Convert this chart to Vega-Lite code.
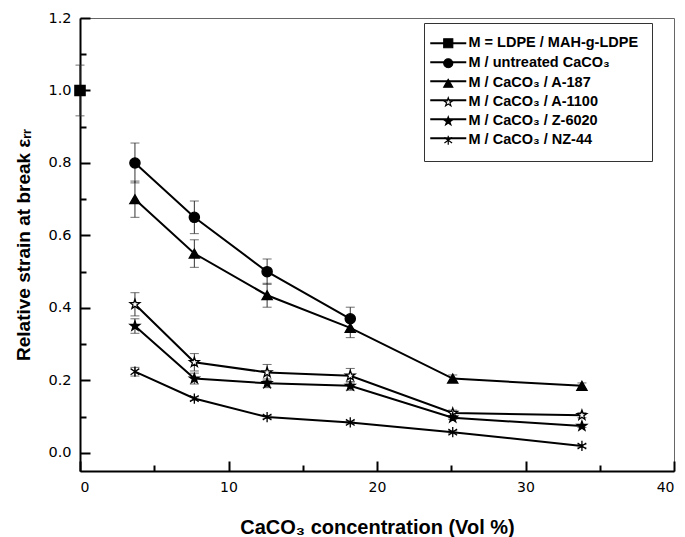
{
  "$schema": "https://vega.github.io/schema/vega-lite/v6.json",
  "width": 594,
  "height": 453,
  "autosize": {"type": "none"},
  "padding": {"left": 80, "top": 18, "right": 11, "bottom": 66},
  "background": "white",
  "config": {
    "view": {"stroke": "#666666", "strokeWidth": 1},
    "axis": {"grid": false, "domainColor": "black", "tickColor": "black", "labelColor": "black", "titleColor": "black"}
  },
  "data": {
    "values": [
      {"series": "M = LDPE / MAH-g-LDPE", "x": 0, "y": 1.0, "lo": 0.93, "hi": 1.07},
      {"series": "M / untreated CaCO₃", "x": 3.7, "y": 0.80, "lo": 0.745, "hi": 0.855},
      {"series": "M / untreated CaCO₃", "x": 7.7, "y": 0.65, "lo": 0.605, "hi": 0.695},
      {"series": "M / untreated CaCO₃", "x": 12.6, "y": 0.50, "lo": 0.465, "hi": 0.535},
      {"series": "M / untreated CaCO₃", "x": 18.2, "y": 0.37, "lo": 0.338, "hi": 0.402},
      {"series": "M / CaCO₃ / A-187", "x": 3.7, "y": 0.70, "lo": 0.65, "hi": 0.75},
      {"series": "M / CaCO₃ / A-187", "x": 7.7, "y": 0.55, "lo": 0.512, "hi": 0.588},
      {"series": "M / CaCO₃ / A-187", "x": 12.6, "y": 0.435, "lo": 0.402, "hi": 0.468},
      {"series": "M / CaCO₃ / A-187", "x": 18.2, "y": 0.345, "lo": 0.318, "hi": 0.372},
      {"series": "M / CaCO₃ / A-187", "x": 25.1, "y": 0.205, "lo": 0.195, "hi": 0.215},
      {"series": "M / CaCO₃ / A-187", "x": 33.8, "y": 0.185, "lo": 0.177, "hi": 0.193},
      {"series": "M / CaCO₃ / A-1100", "x": 3.7, "y": 0.41, "lo": 0.378, "hi": 0.442},
      {"series": "M / CaCO₃ / A-1100", "x": 7.7, "y": 0.25, "lo": 0.226, "hi": 0.274},
      {"series": "M / CaCO₃ / A-1100", "x": 12.6, "y": 0.222, "lo": 0.2, "hi": 0.244},
      {"series": "M / CaCO₃ / A-1100", "x": 18.2, "y": 0.213, "lo": 0.193, "hi": 0.233},
      {"series": "M / CaCO₃ / A-1100", "x": 25.1, "y": 0.11, "lo": 0.102, "hi": 0.118},
      {"series": "M / CaCO₃ / A-1100", "x": 33.8, "y": 0.104, "lo": 0.097, "hi": 0.111},
      {"series": "M / CaCO₃ / Z-6020", "x": 3.7, "y": 0.35, "lo": 0.33, "hi": 0.37},
      {"series": "M / CaCO₃ / Z-6020", "x": 7.7, "y": 0.205, "lo": 0.19, "hi": 0.22},
      {"series": "M / CaCO₃ / Z-6020", "x": 12.6, "y": 0.192, "lo": 0.18, "hi": 0.204},
      {"series": "M / CaCO₃ / Z-6020", "x": 18.2, "y": 0.185, "lo": 0.173, "hi": 0.197},
      {"series": "M / CaCO₃ / Z-6020", "x": 25.1, "y": 0.097, "lo": 0.092, "hi": 0.102},
      {"series": "M / CaCO₃ / Z-6020", "x": 33.8, "y": 0.074, "lo": 0.07, "hi": 0.078},
      {"series": "M / CaCO₃ / NZ-44", "x": 3.7, "y": 0.224, "lo": 0.212, "hi": 0.236},
      {"series": "M / CaCO₃ / NZ-44", "x": 7.7, "y": 0.15, "lo": 0.145, "hi": 0.155},
      {"series": "M / CaCO₃ / NZ-44", "x": 12.6, "y": 0.099, "lo": 0.095, "hi": 0.103},
      {"series": "M / CaCO₃ / NZ-44", "x": 18.2, "y": 0.084, "lo": 0.08, "hi": 0.088},
      {"series": "M / CaCO₃ / NZ-44", "x": 25.1, "y": 0.057, "lo": 0.053, "hi": 0.061},
      {"series": "M / CaCO₃ / NZ-44", "x": 33.8, "y": 0.019, "lo": 0.015, "hi": 0.023}
    ]
  },
  "layer": [
    {
      "mark": {"type": "rule", "stroke": "#333333", "strokeWidth": 1},
      "encoding": {
        "x": {"field": "x", "type": "quantitative", "scale": {"domain": [0, 40], "nice": false, "zero": false},
          "axis": {"orient": "bottom", "values": [5, 15, 25, 35], "labels": false, "domain": false, "tickSize": -6, "tickWidth": 2, "title": null}},
        "y": {"field": "lo", "type": "quantitative", "scale": {"domain": [-0.05, 1.2], "nice": false, "zero": false},
          "axis": {"orient": "left", "values": [0.1, 0.3, 0.5, 0.7, 0.9, 1.1], "labels": false, "domain": false, "tickSize": -6, "tickWidth": 2, "title": null}},
        "y2": {"field": "hi"}
      }
    },
    {
      "mark": {"type": "tick", "orient": "horizontal", "color": "#333333", "size": 9, "thickness": 1},
      "encoding": {
        "x": {"field": "x", "type": "quantitative", "axis": null},
        "y": {"field": "lo", "type": "quantitative", "axis": null}
      }
    },
    {
      "mark": {"type": "tick", "orient": "horizontal", "color": "#333333", "size": 9, "thickness": 1},
      "encoding": {
        "x": {"field": "x", "type": "quantitative", "axis": null},
        "y": {"field": "hi", "type": "quantitative", "axis": null}
      }
    },
    {
      "mark": {"type": "line", "strokeWidth": 2},
      "encoding": {
        "x": {"field": "x", "type": "quantitative", "axis": null},
        "y": {"field": "y", "type": "quantitative", "axis": null},
        "stroke": {"field": "series", "type": "nominal",
          "scale": {"range": ["black"]},
          "legend": {
            "orient": "none", "legendX": 344, "legendY": 5, "title": null,
            "values": ["M = LDPE / MAH-g-LDPE", "M / untreated CaCO₃", "M / CaCO₃ / A-187", "M / CaCO₃ / A-1100", "M / CaCO₃ / Z-6020", "M / CaCO₃ / NZ-44"],
            "symbolType": "M-4,0H4", "symbolSize": 81, "symbolStrokeWidth": 2, "symbolOffset": 4,
            "padding": 13, "rowPadding": 4, "labelOffset": 13,
            "labelExpr": "''",
            "labelFont": "Liberation Sans", "labelFontSize": 14.5, "labelFontWeight": "bold", "labelColor": "rgba(0,0,0,0)", "labelLimit": 400,
            "zindex": 0
          }
        }
      }
    },
    {
      "mark": {"type": "point", "filled": true, "stroke": "black", "strokeWidth": 1.3, "size": 105, "opacity": 1},
      "encoding": {
        "x": {"field": "x", "type": "quantitative",
          "axis": {"orient": "bottom", "values": [0, 10, 20, 30, 40], "tickSize": -10, "tickWidth": 2, "domainWidth": 2,
            "labelFont": "DejaVu Sans", "labelFontSize": 14, "labelPadding": 19,
            "title": "CaCO₃ concentration (Vol %)", "titleFont": "Liberation Sans", "titleFontSize": 20, "titleFontWeight": "bold", "titlePadding": 23}},
        "y": {"field": "y", "type": "quantitative",
          "axis": {"orient": "left", "values": [0, 0.2, 0.4, 0.6, 0.8, 1.0, 1.2], "format": ".1f", "tickSize": -10, "tickWidth": 2, "domainWidth": 2,
            "labelFont": "DejaVu Sans", "labelFontSize": 14.5, "labelPadding": 19,
            "title": "Relative strain at break εᵣᵣ", "titleFont": "Liberation Sans", "titleFontSize": 19, "titleFontWeight": "bold", "titlePadding": 14}},
        "shape": {"field": "series", "type": "nominal",
          "scale": {
            "domain": ["M = LDPE / MAH-g-LDPE", "M / untreated CaCO₃", "M / CaCO₃ / A-187", "M / CaCO₃ / A-1100", "M / CaCO₃ / Z-6020", "M / CaCO₃ / NZ-44"],
            "range": ["square", "circle", "triangle-up",
              "M0,-1L0.235,-0.324L0.951,-0.309L0.380,0.124L0.588,0.809L0,0.4L-0.588,0.809L-0.380,0.124L-0.951,-0.309L-0.235,-0.324Z",
              "M0,-1L0.235,-0.324L0.951,-0.309L0.380,0.124L0.588,0.809L0,0.4L-0.588,0.809L-0.380,0.124L-0.951,-0.309L-0.235,-0.324Z",
              "M0,-1L0,1M-0.85,-0.6L0.85,0.6M-0.85,0.6L0.85,-0.6"]},
          "legend": {
            "orient": "none", "legendX": 344, "legendY": 5, "title": null,
            "symbolSize": 81, "symbolStrokeWidth": 1.2, "symbolOffset": 4,
            "padding": 13, "rowPadding": 4, "labelOffset": 13,
            "strokeColor": "#333333", "fillColor": null,
            "labelFont": "Liberation Sans", "labelFontSize": 14.5, "labelFontWeight": "bold", "labelColor": "black", "labelLimit": 400,
            "zindex": 1
          }
        },
        "fill": {"field": "series", "type": "nominal",
          "scale": {
            "domain": ["M = LDPE / MAH-g-LDPE", "M / untreated CaCO₃", "M / CaCO₃ / A-187", "M / CaCO₃ / A-1100", "M / CaCO₃ / Z-6020", "M / CaCO₃ / NZ-44"],
            "range": ["black", "black", "black", "white", "black", "black"]},
          "legend": {
            "orient": "none", "legendX": 344, "legendY": 5, "title": null,
            "symbolSize": 81, "symbolStrokeWidth": 1.2, "symbolOffset": 4,
            "padding": 13, "rowPadding": 4, "labelOffset": 13,
            "strokeColor": "#333333", "fillColor": null,
            "labelFont": "Liberation Sans", "labelFontSize": 14.5, "labelFontWeight": "bold", "labelColor": "black", "labelLimit": 400,
            "zindex": 1
          }
        }
      }
    }
  ],
  "resolve": {"axis": {"x": "independent", "y": "independent"}}
}
